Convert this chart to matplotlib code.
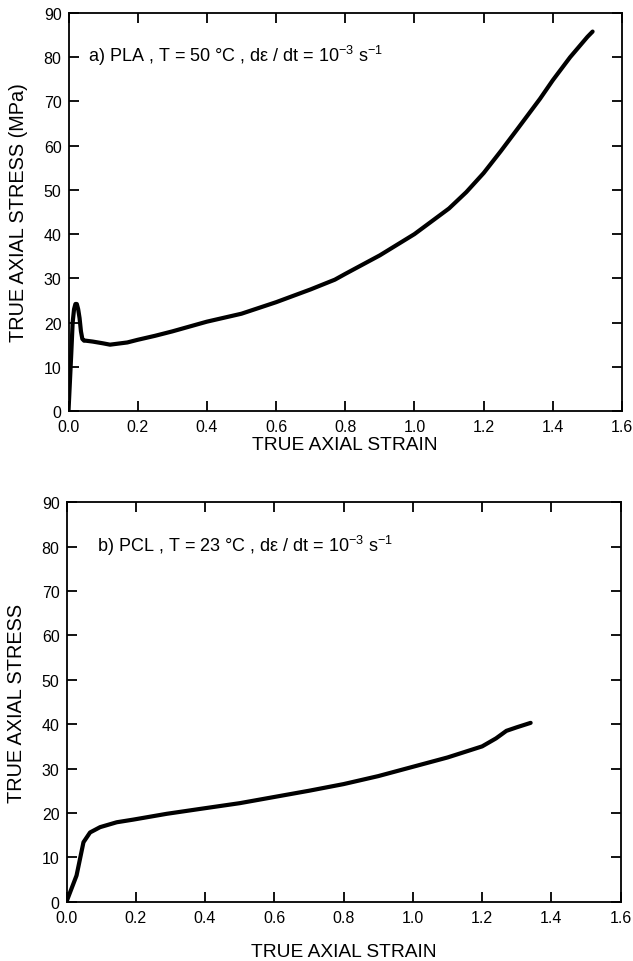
import matplotlib
matplotlib.use("Agg")
import matplotlib.pyplot as plt

plt.rcParams['font.family'] = ['Liberation Sans', 'DejaVu Sans']
plt.rcParams['mathtext.default'] = 'regular'

# PLA (panel a)
pla_strain = [0, 0.004, 0.008, 0.012, 0.016, 0.02, 0.024, 0.028, 0.032, 0.036,
              0.04, 0.045, 0.05, 0.07, 0.1, 0.12, 0.14, 0.17, 0.2, 0.25, 0.3,
              0.4, 0.5, 0.6, 0.7, 0.77, 0.8, 0.9, 1.0, 1.1, 1.15, 1.2,
              1.25, 1.3, 1.363, 1.4, 1.45, 1.5, 1.515]
pla_stress = [0, 6.5, 13, 20, 23, 24.2, 24.2, 23, 21, 18,
              16.3, 15.9, 15.9, 15.7, 15.3, 15.0, 15.2, 15.5, 16.1, 17.0, 18.0,
              20.2, 22.0, 24.6, 27.5, 29.7, 31.0, 35.2, 40.0, 45.8, 49.5, 53.8,
              58.8, 64.0, 70.6, 74.8, 80.0, 84.6, 85.8]

# PCL (panel b)
pcl_strain = [0, 0.029, 0.049, 0.068, 0.097, 0.145, 0.193, 0.289, 0.385, 0.5,
              0.6, 0.7, 0.8, 0.9, 1.0, 1.1, 1.2, 1.24, 1.27, 1.3, 1.34]
pcl_stress = [0, 5.9, 13.4, 15.6, 16.8, 17.9, 18.5, 19.8, 20.9, 22.2,
              23.6, 25.0, 26.5, 28.3, 30.4, 32.5, 35.0, 36.8, 38.5, 39.3, 40.3]

xticks = [0.0, 0.2, 0.4, 0.6, 0.8, 1.0, 1.2, 1.4, 1.6]
yticks = [0, 10, 20, 30, 40, 50, 60, 70, 80, 90]

fig = plt.figure(figsize=(6.33, 9.62), dpi=100)
ax1 = fig.add_axes([68.5/633, 1-412/962, (622-68.5)/633, (412-14)/962])
ax2 = fig.add_axes([66.5/633, 1-902.7/962, (620.7-66.5)/633, (902.7-503.3)/962])

panels = [
    (ax1, pla_strain, pla_stress, 'TRUE AXIAL STRESS (MPa)',
     r'a) PLA , T = 50 °C , dε / dt = 10$^{-3}$ s$^{-1}$', 0.057, 1.5),
    (ax2, pcl_strain, pcl_stress, 'TRUE AXIAL STRESS',
     r'b) PCL , T = 23 °C , dε / dt = 10$^{-3}$ s$^{-1}$', 0.087, 13),
]
for ax, xs, ys, ylab, ann, ax_x, xpad in panels:
    ax.plot(xs, ys, color='black', lw=3.0, solid_joinstyle='round', solid_capstyle='round')
    ax.set_xlim(0, 1.6)
    ax.set_ylim(0, 90)
    ax.set_xticks(xticks)
    ax.set_xticklabels([f'{v:.1f}' for v in xticks])
    ax.set_yticks(yticks)
    ax.tick_params(direction='in', length=7, width=1.3, top=True, right=True,
                   labelsize=11.5)
    ax.tick_params(axis='x', pad=6)
    ax.tick_params(axis='y', pad=5)
    for s in ax.spines.values():
        s.set_linewidth(1.3)
    ax.set_xlabel('TRUE AXIAL STRAIN', fontsize=13.8, labelpad=xpad)
    ax.set_ylabel(ylab, fontsize=14.3, labelpad=11)
    ax.text(ax_x, 80.5, ann, fontsize=13, va='center', ha='left')

fig.savefig('out.png', dpi=100)
